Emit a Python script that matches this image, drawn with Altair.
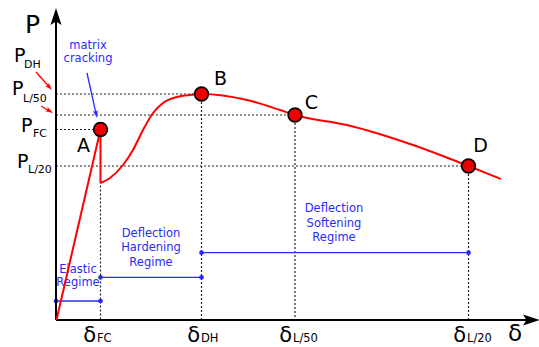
import altair as alt
import pandas as pd
import numpy as np

FONT = "DejaVu Sans"
RED = "#ff0000"
BLUE = "#2a2aff"

# ---- key points (delta, P) in drawing units (origin at axes corner) ----
pt_label = ["A", "B", "C", "D"]
pt_delta = [44.5, 145.5, 239, 412.5]
pt_P = [190.5, 226, 205, 154]
# letter label positions
lab_delta = [27.5, 164.5, 255.5, 424.5]
lab_P = [168, 235, 211, 168]

# ---- load-deflection curve ----
elastic_delta = [0.5, 44.5]
elastic_P = [0, 190.5]
drop_delta = [44.5, 44.5]
drop_P = [190.5, 137]
curve_delta = [44.5, 54, 67, 77, 87, 97, 107, 121, 134, 145.5, 191, 224, 239, 291, 357, 412.5, 445]
curve_P = [137, 142, 155, 170, 190, 207, 217, 223, 225, 226, 220, 210, 205, 195, 175, 154, 141]

# ---- regime bars ----
regime_start = [0, 44.5, 145.5]
regime_end = [44.5, 145.5, 412.5]
regime_level = [19, 42.7, 67.3]
regime_text = [["Elastic", "Regime"], ["Deflection", "Hardening", "Regime"], ["Deflection", "Softening", "Regime"]]
regime_text_delta = [22, 95, 278]
regime_text_P = [[50.5, 37], [86.5, 72, 57.5], [111.5, 96, 82]]

# ---- tick labels on delta axis ----
tick_sub = ["FC", "DH", "L/50", "L/20"]
tick_right = [40, 144, 236, 410]

# ---- P labels ----
p_sub = ["DH", "L/50", "FC", "L/20"]
p_x = [-42, -44, -35, -39]
p_base = [258, 225, 188, 152]
p_sub_x = [-32, -33, -23, -28]
p_sub_base = [252, 218, 183, 147]

# ---- annotation arrows ----
arrow_x0 = [31, -20, -15]
arrow_P0 = [247, 248, 214]
arrow_x1 = [41, -4, -3]
arrow_P1 = [202, 230, 207]
arrow_color = [BLUE, RED, RED]

matrix_text = ["matrix", "cracking"]
matrix_P = [274, 261]
matrix_delta = 32

# axes tips
y_tip = (0, 312)
x_tip = (484, 0)

X = alt.Scale(domain=[-56, 483])
Y = alt.Scale(domain=[-27, 320])
ARROW = "M0,-1L0.55,0.7L0,0.35L-0.55,0.7Z"


def xq(f):
    return alt.X(f, type="quantitative", scale=X, axis=None)


def yq(f):
    return alt.Y(f, type="quantitative", scale=Y, axis=None)


layers = []

# dotted guide lines
guide_rows = []
for d, p in zip(pt_delta, pt_P):
    guide_rows.append({"x": 0, "x2": d, "y": p, "y2": p})
    guide_rows.append({"x": d, "x2": d, "y": p, "y2": 0})
guides = pd.DataFrame(guide_rows)
layers.append(
    alt.Chart(guides).mark_rule(color="#222", strokeWidth=1.2, strokeDash=[2, 2]).encode(
        x=xq("x"), x2="x2", y=yq("y"), y2="y2"
    )
)

# regime bars
reg = pd.DataFrame({"x": regime_start, "x2": regime_end, "y": regime_level})
layers.append(
    alt.Chart(reg).mark_rule(color=BLUE, strokeWidth=1.3).encode(x=xq("x"), x2="x2", y=yq("y"))
)
reg_pts = pd.DataFrame({"x": regime_start + regime_end, "y": regime_level + regime_level})
layers.append(
    alt.Chart(reg_pts).mark_circle(color=BLUE, size=22, opacity=1).encode(x=xq("x"), y=yq("y"))
)
rows = []
for lines, xd, ps in zip(regime_text, regime_text_delta, regime_text_P):
    for t, p in zip(lines, ps):
        rows.append({"t": t, "x": xd, "y": p})
for t, p in zip(matrix_text, matrix_P):
    rows.append({"t": t, "x": matrix_delta, "y": p})
layers.append(
    alt.Chart(pd.DataFrame(rows)).mark_text(
        color=BLUE, font=FONT, fontSize=11.5, align="center", baseline="middle"
    ).encode(x=xq("x"), y=yq("y"), text="t:N")
)

# axes
axes = pd.DataFrame({"x": [0, 0], "x2": [0, x_tip[0] - 5], "y": [0, 0], "y2": [y_tip[1] - 5, 0]})
layers.append(
    alt.Chart(axes).mark_rule(color="black", strokeWidth=2).encode(
        x=xq("x"), x2="x2", y=yq("y"), y2="y2"
    )
)

# arrow heads (axes + annotations)
head_rows = []
for (tx, tp), ang in [(y_tip, 0), (x_tip, 90)]:
    r = 10
    u = np.array([np.sin(np.radians(ang)), np.cos(np.radians(ang))])
    head_rows.append({"x": tx - r * u[0], "y": tp - r * u[1], "a": ang, "c": "black", "s": 400})
for x0, p0, x1, p1, c in zip(arrow_x0, arrow_P0, arrow_x1, arrow_P1, arrow_color):
    dx, dp = x1 - x0, p1 - p0
    n = np.hypot(dx, dp)
    ang = float(np.degrees(np.arctan2(dx, dp)) % 360)
    r = 4.5
    head_rows.append({"x": x1 - r * dx / n, "y": p1 - r * dp / n, "a": ang, "c": c, "s": 81})

shaft_rows = []
for x0, p0, x1, p1, c in zip(arrow_x0, arrow_P0, arrow_x1, arrow_P1, arrow_color):
    dx, dp = x1 - x0, p1 - p0
    n = np.hypot(dx, dp)
    shaft_rows.append({"x": x0, "y": p0, "x2": x1 - 5 * dx / n, "y2": p1 - 5 * dp / n, "c": c})
shafts = pd.DataFrame(shaft_rows)
layers.append(
    alt.Chart(shafts).mark_rule(strokeWidth=1.3).encode(
        x=xq("x"), x2="x2", y=yq("y"), y2="y2", color=alt.Color("c:N", scale=None)
    )
)

# curve
layers.append(
    alt.Chart(pd.DataFrame({"x": elastic_delta, "y": elastic_P})).mark_line(color=RED, strokeWidth=2).encode(
        x=xq("x"), y=yq("y")
    )
)
layers.append(
    alt.Chart(pd.DataFrame({"x": drop_delta, "y": drop_P, "o": [0, 1]})).mark_line(color=RED, strokeWidth=2).encode(
        x=xq("x"), y=yq("y"), order="o:Q"
    )
)
layers.append(
    alt.Chart(pd.DataFrame({"x": curve_delta, "y": curve_P})).mark_line(
        color=RED, strokeWidth=2, interpolate="monotone"
    ).encode(x=xq("x"), y=yq("y"))
)

heads = pd.DataFrame(head_rows)
layers.append(
    alt.Chart(heads).mark_point(shape=ARROW, filled=True, opacity=1, strokeWidth=0).encode(
        x=xq("x"), y=yq("y"), angle=alt.Angle("a:Q", scale=None),
        color=alt.Color("c:N", scale=None), size=alt.Size("s:Q", scale=None)
    )
)

# key points
pts = pd.DataFrame({"x": pt_delta, "y": pt_P})
layers.append(
    alt.Chart(pts).mark_point(
        shape="circle", filled=True, fill="#ee0000", stroke="black", strokeWidth=1.6, size=190, opacity=1
    ).encode(x=xq("x"), y=yq("y"))
)
labs = pd.DataFrame({"t": pt_label, "x": lab_delta, "y": lab_P})
layers.append(
    alt.Chart(labs).mark_text(font=FONT, fontSize=19, color="black", align="center", baseline="alphabetic").encode(
        x=xq("x"), y=yq("y"), text="t:N"
    )
)

# delta tick labels
td = pd.DataFrame({"t": ["δ"] * 4, "x": tick_right, "y": [-22] * 4})
layers.append(
    alt.Chart(td).mark_text(font=FONT, fontSize=21, color="black", align="right", baseline="alphabetic").encode(
        x=xq("x"), y=yq("y"), text="t:N"
    )
)
ts = pd.DataFrame({"t": tick_sub, "x": [v + 1 for v in tick_right], "y": [-22] * 4})
layers.append(
    alt.Chart(ts).mark_text(font=FONT, fontSize=11.5, color="black", align="left", baseline="alphabetic").encode(
        x=xq("x"), y=yq("y"), text="t:N"
    )
)

# P labels
pl = pd.DataFrame({"t": ["P"] * 4, "x": p_x, "y": p_base})
layers.append(
    alt.Chart(pl).mark_text(font=FONT, fontSize=19, color="black", align="left", baseline="alphabetic").encode(
        x=xq("x"), y=yq("y"), text="t:N"
    )
)
ps = pd.DataFrame({"t": p_sub, "x": p_sub_x, "y": p_sub_base})
layers.append(
    alt.Chart(ps).mark_text(font=FONT, fontSize=11, color="black", align="left", baseline="alphabetic").encode(
        x=xq("x"), y=yq("y"), text="t:N"
    )
)

# axis titles
title_text = ["P", "δ"]
title_delta = [-31, 459]
title_P = [287, -21]
layers.append(
    alt.Chart(pd.DataFrame({"t": title_text[:1], "x": title_delta[:1], "y": title_P[:1]})).mark_text(
        font=FONT, fontSize=25, color="black", align="left", baseline="alphabetic"
    ).encode(x=xq("x"), y=yq("y"), text="t:N")
)
layers.append(
    alt.Chart(pd.DataFrame({"t": title_text[1:], "x": title_delta[1:], "y": title_P[1:]})).mark_text(
        font=FONT, fontSize=23, color="black", align="center", baseline="alphabetic"
    ).encode(x=xq("x"), y=yq("y"), text="t:N")
)

chart = (
    alt.layer(*layers)
    .properties(width=539, height=347, autosize=alt.AutoSizeParams(type="none"), padding=0, background="white")
    .configure_view(stroke=None)
)
chart.save("out.html", embed_options={"renderer": "svg", "actions": False})
